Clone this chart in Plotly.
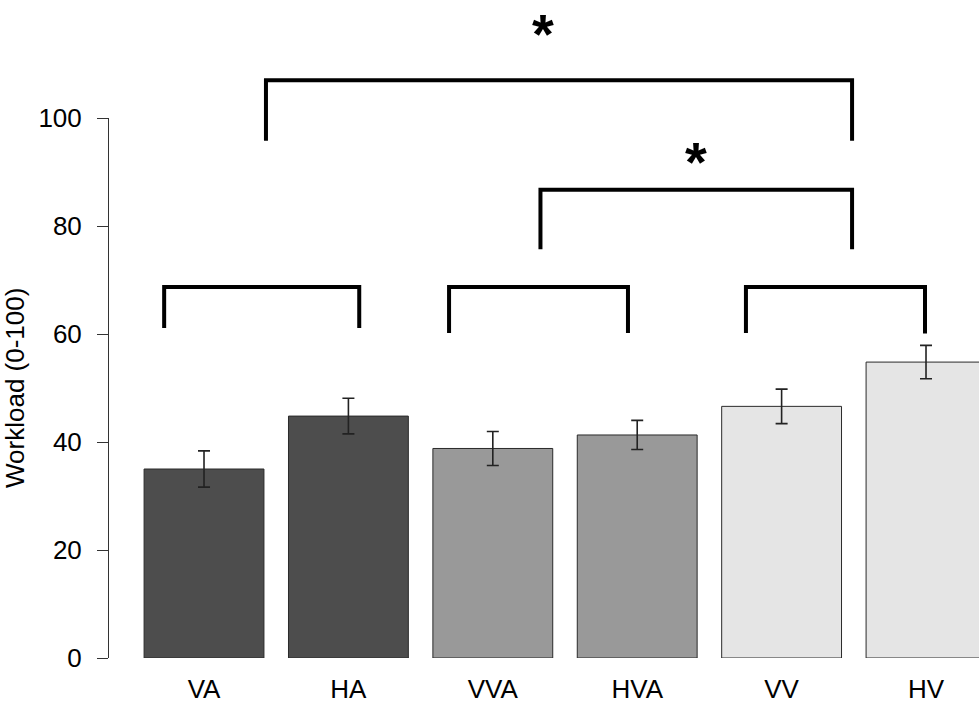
import plotly.graph_objects as go

# ---- data ----
categories = ["VA", "HA", "VVA", "HVA", "VV", "HV"]
workload = [35.0, 44.8, 38.8, 41.3, 46.6, 54.8]
workload_se = [3.35, 3.3, 3.15, 2.7, 3.2, 3.1]
bar_colors = ["#4d4d4d", "#4d4d4d", "#999999", "#999999", "#e5e5e5", "#e5e5e5"]
y_ticks = [0, 20, 40, 60, 80, 100]
y_title = "Workload (0-100)"

# significance brackets: (left x, right x, top y, left leg bottom, right leg bottom)
brackets = [
    (0.429, 4.488, 107.0, 95.8, 95.8),
    (2.330, 4.488, 86.7, 75.7, 75.7),
    (-0.276, 1.075, 68.7, 61.1, 61.1),
    (1.697, 2.936, 68.7, 60.2, 60.2),
    (3.753, 4.993, 68.7, 60.2, 60.1),
]
star_labels = ["*", "*"]
star_pos = [(2.35, 115.6), (3.41, 92.0)]

FONT = "Liberation Sans, Arial, sans-serif"
Y_MAX = 100.0

fig = go.Figure()
fig.add_trace(go.Bar(
    x=list(range(len(categories))),
    y=workload,
    width=0.83,
    marker=dict(color=bar_colors, line=dict(color="#2a2a2a", width=1)),
    error_y=dict(type="data", array=workload_se, visible=True,
                 color="#222222", thickness=1.6, width=6),
    showlegend=False,
    hoverinfo="skip",
))

for (xl, xr, yt, yl, yr) in brackets:
    path = (f"M {xl} {yl / Y_MAX} L {xl} {yt / Y_MAX} "
            f"L {xr} {yt / Y_MAX} L {xr} {yr / Y_MAX}")
    fig.add_shape(type="path", xref="x", yref="paper", path=path,
                  line=dict(color="black", width=4))

for lab, (sx, sy) in zip(star_labels, star_pos):
    fig.add_annotation(x=sx, y=sy / Y_MAX, xref="x", yref="paper",
                       text=f"<b>{lab}</b>", showarrow=False,
                       font=dict(family=FONT, size=56, color="black"),
                       xanchor="center", yanchor="middle")

fig.add_annotation(x=0, y=0.5, xref="paper", yref="paper",
                   text=y_title, textangle=-90, showarrow=False,
                   xanchor="center", yanchor="middle", xshift=-94,
                   font=dict(family=FONT, size=26, color="black"))

fig.update_layout(
    width=979, height=704,
    margin=dict(l=109, r=0, t=118, b=46),
    paper_bgcolor="white", plot_bgcolor="white",
    font=dict(family=FONT, size=26, color="black"),
    xaxis=dict(range=[-0.658, 5.367], tickvals=list(range(len(categories))),
               ticktext=categories, showline=False, showgrid=False,
               zeroline=False, ticks="", ticklabelstandoff=13,
               tickfont=dict(size=26)),
    yaxis=dict(range=[0, Y_MAX], tickvals=y_ticks, showgrid=False,
               zeroline=False, showline=True, linecolor="#333333",
               linewidth=1, ticks="outside", ticklen=11, tickcolor="#333333",
               ticklabelstandoff=10, tickfont=dict(size=26)),
)

# remove the browser's default 8px body margin so the figure sits at (0, 0)
fig.write_html("out.html",
               config={"displayModeBar": False},
               post_script="document.body.style.margin='0';")
